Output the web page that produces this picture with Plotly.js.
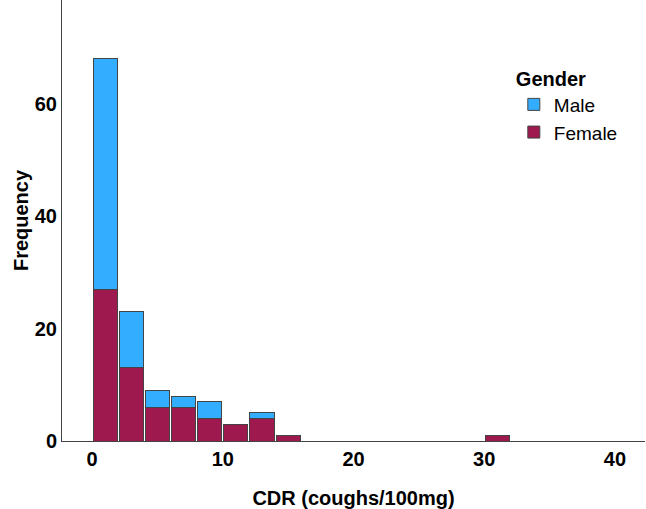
<!DOCTYPE html>
<html>
<head>
<meta charset="utf-8">
<script src="https://cdn.plot.ly/plotly-3.0.1.min.js"></script>
<style>html,body{margin:0;padding:0;background:#fff;}#chart{width:646px;height:509px;}</style>
</head>
<body>
<div id="chart"></div>
<script>
// Bin centers (bins of width 2 on CDR)
var binCenters = [1, 3, 5, 7, 9, 11, 13, 15, 31];
var femaleCounts = [27, 13, 6, 6, 4, 3, 4, 1, 1];
var maleCounts = [41, 10, 3, 2, 3, 0, 1, 0, 0];
var xTicks = [0, 10, 20, 30, 40];
var yTicks = [0, 20, 40, 60];

var font = "Liberation Sans, Arial, sans-serif";
var lineStyle = {color: '#444', width: 1};

var traces = [
  {type: 'bar', name: 'Female', x: binCenters, y: femaleCounts, width: 1.85,
   marker: {color: '#9e1a4e', line: lineStyle}, hoverinfo: 'x+y+name'},
  {type: 'bar', name: 'Male', x: binCenters, y: maleCounts, width: 1.85,
   marker: {color: '#33adff', line: lineStyle}, hoverinfo: 'x+y+name'}
];

var layout = {
  width: 646, height: 509,
  margin: {l: 62, r: 1, t: 0, b: 68},
  paper_bgcolor: '#fff', plot_bgcolor: '#fff',
  barmode: 'stack',
  font: {family: font, size: 20, color: '#000'},
  xaxis: {
    range: [-2.3, 42.3], tickvals: xTicks, ticktext: xTicks.map(String),
    showgrid: false, zeroline: false, showline: true, linecolor: '#444', linewidth: 1,
    ticks: '', tickfont: {family: font, size: 20, weight: 'bold'},
    title: {text: '<b>CDR (coughs/100mg)</b>', font: {family: font, size: 20}, standoff: 22}
  },
  yaxis: {
    range: [0, 78.5], tickvals: yTicks, ticktext: yTicks.map(String),
    showgrid: false, zeroline: false, showline: true, linecolor: '#444', linewidth: 1,
    ticks: '', tickfont: {family: font, size: 20, weight: 'bold'},
    title: {text: '<b>Frequency</b>', font: {family: font, size: 20}, standoff: 0}
  },
  showlegend: true,
  legend: {
    x: 0.775, y: 0.865, xanchor: 'left', yanchor: 'top',
    traceorder: 'reversed',
    title: {text: '<b>Gender</b>', side: 'top', font: {family: font, size: 20}},
    font: {family: font, size: 19},
    bgcolor: 'rgba(0,0,0,0)', itemwidth: 30, tracegroupgap: 0
  }
};

Plotly.newPlot('chart', traces, layout, {displayModeBar: false, staticPlot: true});
</script>
</body>
</html>
